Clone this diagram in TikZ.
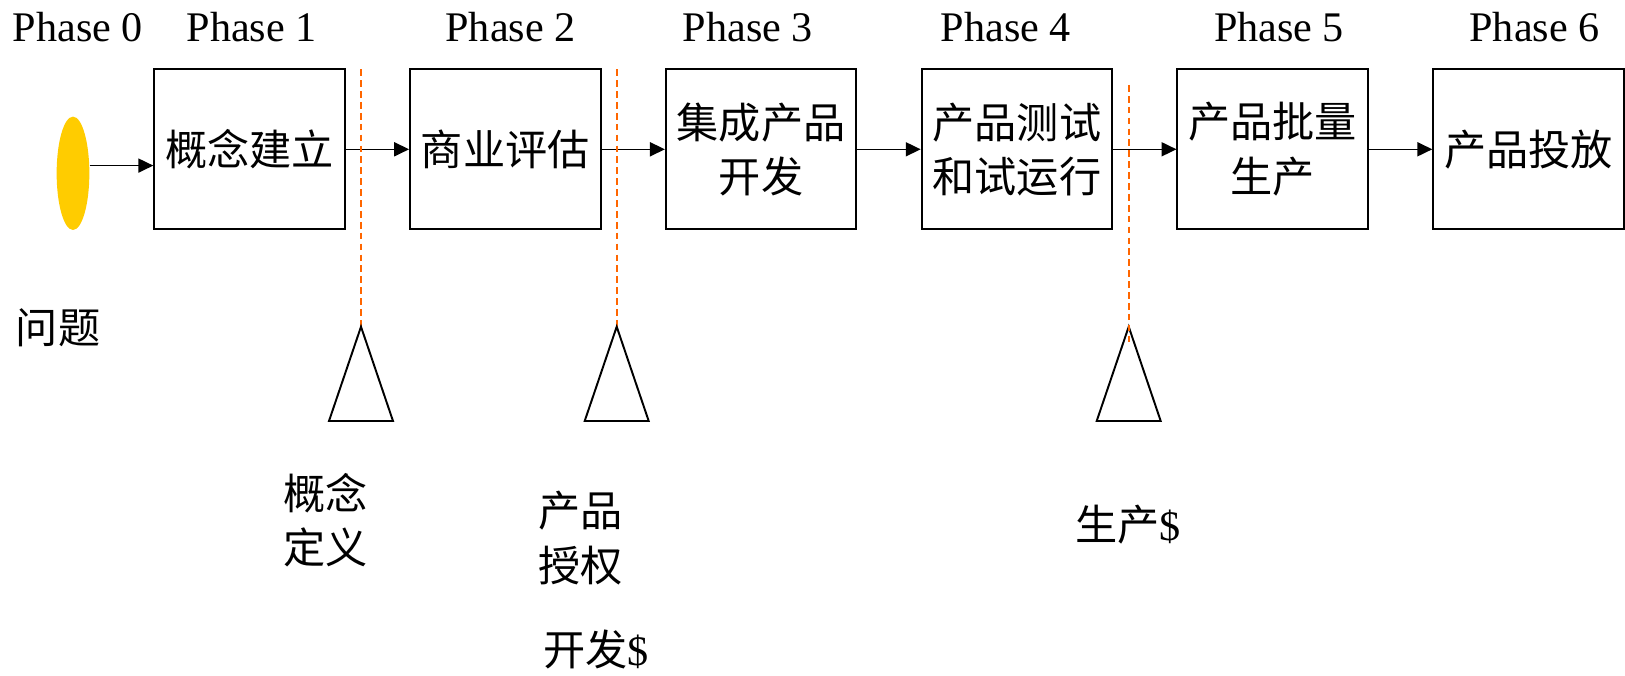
\documentclass[tikz,border=0pt]{standalone}
\usepackage{fontspec}
\setmainfont{Liberation Serif}
\newfontfamily\cjk{Noto Sans CJK SC}
\usetikzlibrary{shapes.geometric,arrows.meta}

\definecolor{gold}{RGB}{255, 204, 0}
\definecolor{orange}{RGB}{255, 102, 0}
\tikzstyle{stage box}=[draw, line width=1.1pt, minimum width=3.81cm, minimum height=3.2cm, align=center, inner sep=0pt, font=\fontsize{24}{31}\selectfont\cjk]
\tikzstyle{flow}=[line width=0.9pt, -{Triangle[length=8.5pt,width=8pt]}]
\tikzstyle{gate line}=[draw=orange, line width=1.3pt, dash pattern=on 3.8pt off 2.4pt]
\tikzstyle{gate}=[line width=1.1pt, line join=miter]
\tikzstyle{label}=[inner sep=0pt, align=left, font=\fontsize{24}{31}\selectfont\cjk]

\begin{document}
\begin{tikzpicture}[font=\fontsize{24}{31}\selectfont]
		\useasboundingbox (0,0) rectangle (32.5,-13.52);

		% phase headings
		\node[anchor=base] (p0) at (1.56,-0.834) {Phase 0};
		\node[anchor=base] (p1) at (5.034,-0.834) {Phase 1};
		\node[anchor=base] (p2) at (10.21,-0.834) {Phase 2};
		\node[anchor=base] (p3) at (14.96,-0.834) {Phase 3};
		\node[anchor=base] (p4) at (20.12,-0.834) {Phase 4};
		\node[anchor=base] (p5) at (25.58,-0.834) {Phase 5};
		\node[anchor=base] (p6) at (30.69,-0.834) {Phase 6};

		% stages
		\node [ellipse, fill=gold, minimum width=0.654cm, minimum height=2.266cm, inner sep=0pt] (start) at (1.46,-3.466) {};
		\node [stage box] (concept) at (4.99,-2.986) {概念建立};
		\node [stage box] (business) at (10.106,-2.986) {商业评估};
		\node [stage box] (develop) at (15.222,-2.986) {集成产品\\开发};
		\node [stage box] (test) at (20.338,-2.986) {产品测试\\和试运行};
		\node [stage box] (produce) at (25.454,-2.986) {产品批量\\生产};
		\node [stage box] (launch) at (30.57,-2.986) {产品投放};

		\draw[flow] (start.25) -- (start.25 -| concept.west);
		\draw[flow] (concept) -- (business);
		\draw[flow] (business) -- (develop);
		\draw[flow] (develop) -- (test);
		\draw[flow] (test) -- (produce);
		\draw[flow] (produce) -- (launch);

		% decision gates
		\coordinate (g1) at (7.22,-6.534);
		\coordinate (g2) at (12.334,-6.534);
		\coordinate (g3) at (22.574,-6.534);
		\coordinate (g1 top) at (7.22,-1.386);
		\coordinate (g2 top) at (12.334,-1.386);
		\coordinate (g3 top) at (22.574,-1.7);
		\coordinate (g3 end) at (22.574,-6.834);

		\draw[gate line] (g1 top) -- (g1);
		\draw[gate line] (g2 top) -- (g2);
		\draw[gate] (g1) -- ++(-0.64,-1.886) -- ++(1.28,0) -- cycle;
		\draw[gate] (g2) -- ++(-0.64,-1.886) -- ++(1.28,0) -- cycle;
		\draw[gate] (g3) -- ++(-0.64,-1.886) -- ++(1.28,0) -- cycle;
		\draw[gate line] (g3 top) -- (g3 end);

		% gate labels
		\node[label] (problem) at (1.16,-6.56) {问题};
		\node[label, anchor=west] (define) at (5.66,-10.4) {概念\\定义};
		\node[label, anchor=west] (approve) at (10.76,-10.76) {产品\\授权};
		\node[label, anchor=west] (devcost) at (10.86,-12.98) {开发{\rmfamily\$}};
		\node[label, anchor=west] (prodcost) at (21.5,-10.5) {生产{\rmfamily\$}};
	\end{tikzpicture}
\end{document}
